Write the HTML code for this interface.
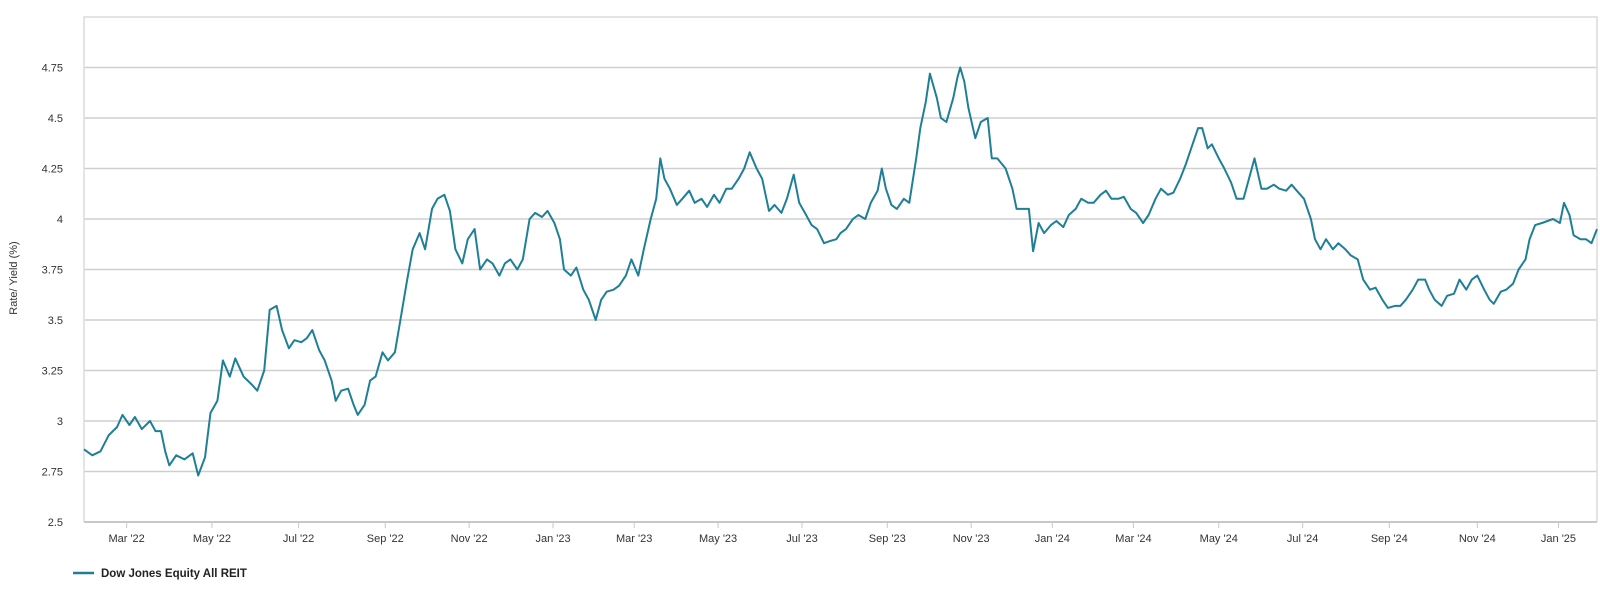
<!DOCTYPE html>
<html><head><meta charset="utf-8"><style>
html,body{margin:0;padding:0;background:#fff;}
svg{display:block;font-family:"Liberation Sans",sans-serif;}
</style></head><body>
<svg id="chart" width="1600" height="598"></svg>
<script>
const days=[0,6,12,18,24,28,33,37,42,48,52,56,59,62,67,73,79,83,88,92,97,101,106,110,116,122,126,131,135,140,144,149,153,158,162,166,171,175,180,183,187,192,196,199,204,208,212,217,221,226,230,235,239,244,248,253,257,262,266,270,275,279,284,288,293,297,302,306,310,315,319,324,328,333,337,342,346,349,354,358,363,367,372,376,380,385,389,394,398,403,407,412,416,419,422,426,431,435,440,444,449,453,458,462,467,471,476,480,484,489,493,498,502,507,511,516,520,525,529,533,538,542,547,550,554,559,563,568,572,577,580,583,587,591,596,600,605,608,612,615,620,623,627,632,635,637,640,643,648,652,657,660,664,670,675,678,682,687,690,694,698,703,707,712,716,721,725,730,734,739,743,747,752,756,761,765,770,774,779,783,788,792,797,801,805,810,813,817,820,825,829,834,838,843,847,851,856,860,865,869,874,878,883,887,892,895,899,903,908,912,917,921,926,930,935,939,944,948,953,957,961,966,970,975,978,982,987,991,996,1000,1005,1009,1013,1018,1022,1025,1030,1034,1039,1043,1048,1051,1055,1060,1064,1068,1073,1076,1080,1083,1088,1092,1096,1100];
const values=[2.86,2.83,2.85,2.93,2.97,3.03,2.98,3.02,2.96,3.0,2.95,2.95,2.85,2.78,2.83,2.81,2.84,2.73,2.82,3.04,3.1,3.3,3.22,3.31,3.22,3.18,3.15,3.25,3.55,3.57,3.45,3.36,3.4,3.39,3.41,3.45,3.35,3.3,3.2,3.1,3.15,3.16,3.08,3.03,3.08,3.2,3.22,3.34,3.3,3.34,3.5,3.7,3.85,3.93,3.85,4.05,4.1,4.12,4.04,3.85,3.78,3.9,3.95,3.75,3.8,3.78,3.72,3.78,3.8,3.75,3.8,4.0,4.03,4.01,4.04,3.98,3.9,3.75,3.72,3.76,3.65,3.6,3.5,3.6,3.64,3.65,3.67,3.72,3.8,3.72,3.85,4.0,4.1,4.3,4.2,4.15,4.07,4.1,4.14,4.08,4.1,4.06,4.12,4.08,4.15,4.15,4.2,4.25,4.33,4.25,4.2,4.04,4.07,4.03,4.1,4.22,4.08,4.02,3.97,3.95,3.88,3.89,3.9,3.93,3.95,4.0,4.02,4.0,4.08,4.14,4.25,4.15,4.07,4.05,4.1,4.08,4.3,4.45,4.58,4.72,4.6,4.5,4.48,4.6,4.7,4.75,4.68,4.55,4.4,4.48,4.5,4.3,4.3,4.25,4.15,4.05,4.05,4.05,3.84,3.98,3.93,3.97,3.99,3.96,4.02,4.05,4.1,4.08,4.08,4.12,4.14,4.1,4.1,4.11,4.05,4.03,3.98,4.02,4.1,4.15,4.12,4.13,4.2,4.27,4.35,4.45,4.45,4.35,4.37,4.3,4.25,4.18,4.1,4.1,4.2,4.3,4.15,4.15,4.17,4.15,4.14,4.17,4.13,4.1,4.0,3.9,3.85,3.9,3.85,3.88,3.85,3.82,3.8,3.7,3.65,3.66,3.6,3.56,3.57,3.57,3.6,3.65,3.7,3.7,3.65,3.6,3.57,3.62,3.63,3.7,3.65,3.7,3.72,3.65,3.6,3.58,3.64,3.65,3.68,3.75,3.8,3.9,3.97,3.98,3.99,4.0,3.98,4.08,4.02,3.92,3.9,3.9,3.88,3.95];
const yTicks=[2.5,2.75,3,3.25,3.5,3.75,4,4.25,4.5,4.75];
const yTickLabels=["2.5","2.75","3","3.25","3.5","3.75","4","4.25","4.5","4.75"];
const xTickDays=[31,93,156,219,280,341,400,461,522,584,645,704,763,825,886,949,1013,1072];
const xTickLabels=["Mar '22","May '22","Jul '22","Sep '22","Nov '22","Jan '23","Mar '23","May '23","Jul '23","Sep '23","Nov '23","Jan '24","Mar '24","May '24","Jul '24","Sep '24","Nov '24","Jan '25"];

const L=84,R=1597,T=17,B=522;
const x=d=>L+(d-0)/1100*(R-L);
const y=v=>B-(v-2.5)/0.25*50.5;
const NS="http://www.w3.org/2000/svg";
const svg=document.getElementById('chart');
function mk(tag,attrs,parent){const e=document.createElementNS(NS,tag);for(const k in attrs)e.setAttribute(k,attrs[k]);(parent||svg).appendChild(e);return e;}

const grid=mk('g',{});


yTicks.forEach((v,i)=>{
  if(i>0){const g=mk('line',{x1:L,x2:R,y1:y(v),y2:y(v),stroke:'#cfcfcf','stroke-width':1.5},grid);
  
  }
  const t=mk('text',{x:63,y:y(v)+4,'text-anchor':'end','font-size':11,fill:'#333'});
  
  
  t.textContent=yTickLabels[i];
});
const frame=mk('path',{d:`M${L},${B}V${T}H${R}V${B}`,fill:'none',stroke:'#dcdcdc','stroke-width':1.5});


const ax=mk('line',{x1:L,x2:R,y1:B,y2:B,stroke:'#c8c8c8','stroke-width':2});


xTickDays.forEach((d,i)=>{
  const tk=mk('line',{x1:x(d),x2:x(d),y1:B,y2:B+6,stroke:'#c8c8c8','stroke-width':1});
  
  
  const t=mk('text',{x:x(d),y:B+20,'text-anchor':'middle','font-size':11,fill:'#333'});
  
  
  t.textContent=xTickLabels[i];
});
const yt=mk('text',{x:0,y:0,transform:'translate(17,278) rotate(-90)','text-anchor':'middle','font-size':11,fill:'#333'});


yt.textContent='Rate/ Yield (%)';
const pts=values.map((v,i)=>x(days[i]).toFixed(1)+','+y(v).toFixed(1)).join(' ');
const line=mk('polyline',{points:pts,fill:'none',stroke:'#1f7f97','stroke-width':2,'stroke-linejoin':'round'});


const lg=mk('g',{});


mk('line',{x1:73,x2:94,y1:573,y2:573,stroke:'#1f7f97','stroke-width':2.5},lg);
const lt=mk('text',{x:101,y:577,'font-size':11.5,'font-weight':'bold',fill:'#222'},lg);


lt.textContent='Dow Jones Equity All REIT';
</script>
</body></html>
